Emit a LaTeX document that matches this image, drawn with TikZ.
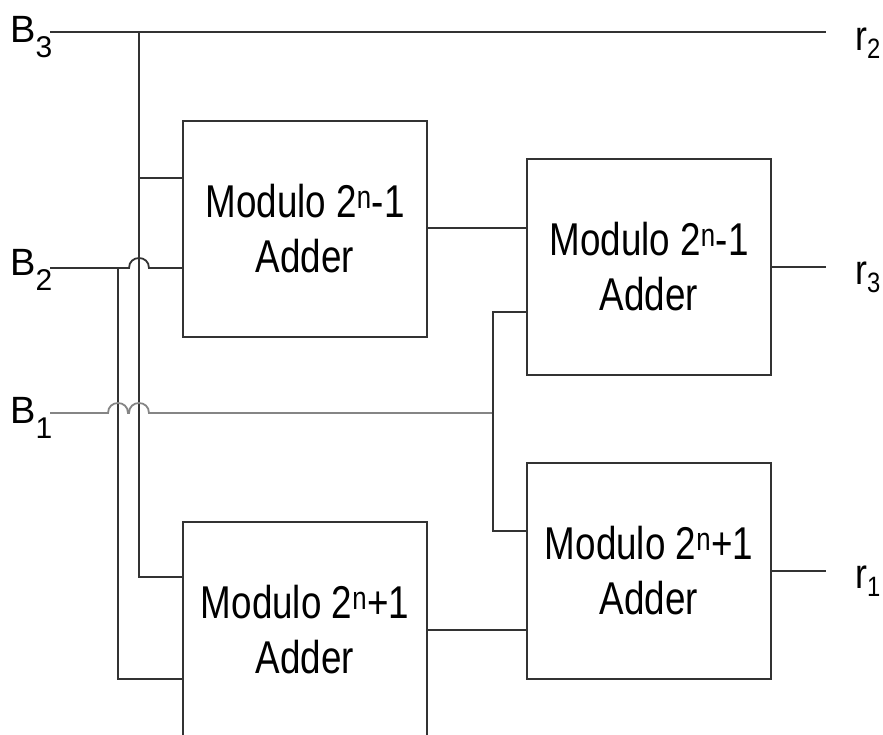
\documentclass[tikz,border=0pt]{standalone}
\usepackage{fontspec}
\setmainfont{Liberation Sans}[FakeStretch=0.80]
\newfontfamily\lblfont{Liberation Sans}
\newfontfamily\rfont{Liberation Sans}[FakeStretch=0.85]
\definecolor{wire}{HTML}{333333}
\definecolor{greywire}{HTML}{858585}
\begin{document}
\begin{tikzpicture}[x=1pt,y=-1pt,
  adder/.style={draw=wire,line width=1.8pt,minimum width=244pt,minimum height=216pt,
    inner sep=0pt,align=center,font=\fontsize{46}{55}\selectfont},
  wireline/.style={draw=wire,line width=1.8pt},
  b1wire/.style={draw=greywire,line width=1.8pt},
  lbl/.style={anchor=base west,inner sep=0pt,font=\lblfont\fontsize{38}{42}\selectfont},
  rlbl/.style={anchor=base west,inner sep=0pt,font=\rfont\fontsize{42}{46}\selectfont}]
\useasboundingbox (0,0) rectangle (883,734);
\clip (0,0) rectangle (883,734);
% boxes
\node[adder] (a1) at (305,229) {Modulo 2\textsuperscript{n}-1\\Adder};
\node[adder] (a2) at (649,267) {Modulo 2\textsuperscript{n}-1\\Adder};
\node[adder] (a3) at (649,571) {Modulo 2\textsuperscript{n}+1\\Adder};
\node[adder] (a4) at (305,630) {Modulo 2\textsuperscript{n}+1\\Adder};
% labels
\node[lbl] (lb3) at (10,42) {B\raisebox{-15pt}{\fontsize{30}{32}\selectfont 3}};
\node[lbl] (lb2) at (10,275) {B\raisebox{-15pt}{\fontsize{30}{32}\selectfont 2}};
\node[lbl] (lb1) at (10,423) {B\raisebox{-15pt}{\fontsize{30}{32}\selectfont 1}};
\node[rlbl] (lr2) at (855,50) {r\raisebox{-8pt}{\fontsize{28}{30}\selectfont 2}};
\node[rlbl] (lr3) at (855,284) {r\raisebox{-8pt}{\fontsize{28}{30}\selectfont 3}};
\node[rlbl] (lr1) at (855,588) {r\raisebox{-8pt}{\fontsize{28}{30}\selectfont 1}};
% coordinates
\coordinate (b3) at (50,32);
\coordinate (r2) at (826,32);
\coordinate (t3) at (139,32);
\coordinate (b2) at (50,268);
\coordinate (b1) at (50,413);
\coordinate (j1) at (493,413);
\coordinate (r3) at (826,267);
\coordinate (r1) at (826,571);
% B3 bus
\draw[wireline] (b3) -- (r2);
\draw[wireline] (t3) -- (139,577) -- (a4.west |- 0,577);
\draw[wireline] (139,178) -- (a1.west |- 0,178);
% B2 bus with hop
\draw[wireline] (b2) -- (129,268) .. controls (129,254.7) and (149,254.7) .. (149,268) -- (a1.west |- 0,268);
\draw[wireline] (118,268) -- (118,679) -- (a4.west |- 0,679);
% B1 bus with hops
\draw[b1wire] (b1) -- (108,413) .. controls (108,399.7) and (128,399.7) .. (128,413)
  -- (129,413) .. controls (129,399.7) and (149,399.7) .. (149,413) -- (j1);
\draw[wireline] (a2.west |- 0,312) -- (493,312) -- (493,531) -- (a3.west |- 0,531);
% adder links
\draw[wireline] (a1.east |- 0,228) -- (a2.west |- 0,228);
\draw[wireline] (a4.east |- 0,630) -- (a3.west |- 0,630);
\draw[wireline] (a2.east |- 0,267) -- (r3);
\draw[wireline] (a3.east |- 0,571) -- (r1);
\end{tikzpicture}
\end{document}
